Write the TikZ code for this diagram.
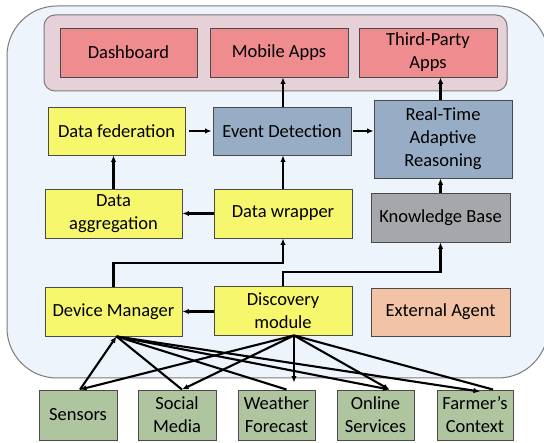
\documentclass[tikz,border=0pt]{standalone}
\usepackage{fontspec}
\setmainfont{Carlito}
\usetikzlibrary{arrows.meta}

\definecolor{panelfill}{HTML}{EEF4FB}
\definecolor{panelline}{HTML}{7A7A7A}
\definecolor{appsfill}{HTML}{E7D1D9}
\definecolor{appbox}{HTML}{EE8C90}
\definecolor{yelbox}{HTML}{F7F76E}
\definecolor{bluebox}{HTML}{97ADC6}
\definecolor{greybox}{HTML}{A6A7AA}
\definecolor{peachbox}{HTML}{F2C3A5}
\definecolor{greenbox}{HTML}{AFC5A0}
\definecolor{boxline}{HTML}{4A4A4A}

\tikzset{
  box/.style={draw=boxline, line width=0.9pt, align=center, inner sep=0pt,
    font=\fontsize{18.5}{23}\selectfont, text=black},
  wide/.style={box, minimum width=138pt, minimum height=49pt},
  src/.style={box, fill=greenbox, minimum width=78pt, minimum height=50pt},
  arr/.style={line width=2.1pt, -{Latex[length=6.5pt,width=5.5pt]}},
  link/.style={line width=2.1pt}
}

\begin{document}
\begin{tikzpicture}[x=1pt, y=-1pt]
\useasboundingbox (0,0) rectangle (544,443);
\clip (0,0) rectangle (544,443);

% platform panel
\draw[panelline, fill=panelfill, line width=1pt, rounded corners=50pt]
  (7,6) rectangle (548,378);

% application layer
\draw[panelline, fill=appsfill, line width=1pt, rounded corners=11pt]
  (44,15) rectangle (507,91);
\node[wide, fill=appbox, minimum width=137pt] (dash)   at (128.5,52.5) {Dashboard};
\node[wide, fill=appbox] (mobile) at (279,52.5) {Mobile Apps};
\node[wide, fill=appbox] (third)  at (428,52.5) {Third-Party\\Apps};

% processing layer
\node[wide, fill=yelbox, minimum width=137pt, minimum height=48pt] (fed) at (116.5,131) {Data federation};
\node[wide, fill=bluebox, minimum height=48pt] (event) at (282,131) {Event Detection};
\node[wide, fill=bluebox, minimum height=78pt] (rtar) at (443,139) {Real-Time\\Adaptive\\Reasoning};

\node[wide, fill=yelbox, minimum width=137pt] (agg)  at (113.5,213.5) {Data\\aggregation};
\node[wide, fill=yelbox] (wrap) at (283,213.5) {Data wrapper};
\node[wide, fill=greybox, minimum width=139pt] (kb) at (440.5,217.5) {Knowledge Base};

\node[wide, fill=yelbox, minimum width=137pt] (dm)   at (113.5,311.5) {Device Manager};
\node[wide, fill=yelbox] (disc) at (283,310.5) {Discovery\\module};
\node[wide, fill=peachbox, minimum width=139pt, minimum height=48pt] (ext) at (440.5,312) {External Agent};

% data sources
\node[src] (sens)    at (78,415)    {Sensors};
\node[src] (social)  at (177,415)   {Social\\Media};
\node[src, minimum width=77pt] (weather) at (276.5,415) {Weather\\Forecast};
\node[src, minimum width=77pt] (online)  at (375.5,415) {Online\\Services};
\node[src, minimum width=76pt] (farmer)  at (475,415)   {Farmer’s\\Context};

% flows between layers
\draw[arr] (event.north -| wrap.north) -- (mobile.south -| wrap.north);
\draw[arr] (rtar.north -| kb.north) -- (third.south -| kb.north);
\draw[arr, shorten <=4pt, shorten >=1pt] (fed.east) -- (event.west);
\draw[arr, shorten <=2pt] (event.east) -- (rtar.west |- event.east);
\draw[arr] (agg.north) -- (agg.north |- fed.south);
\draw[arr] (wrap.north) -- (wrap.north |- event.south);
\draw[arr] (wrap.west |- agg.east) -- (agg.east);
\draw[arr] (kb.north) -- (kb.north |- rtar.south);
\coordinate (dmup) at (113.5,263);
\coordinate (discup) at (283,272);
\draw[arr] (dm.north) -- (dmup) -| (wrap.south);
\draw[arr] (disc.north) -- (discup) -| (kb.south);
\draw[arr] (disc.west |- dm.east) -- (dm.east);

% connections to the data sources
\coordinate (dmb)   at ([xshift=3pt]dm.south);
\coordinate (discb) at ([xshift=11pt]disc.south);
\coordinate (sensT)   at ([xshift=2pt]sens.north);
\coordinate (socT)    at ([xshift=5pt]social.north);
\coordinate (wthT)    at ([xshift=10pt]weather.north);
\coordinate (wthA)    at ([yshift=7pt]weather.north -| discb);
\coordinate (onlT)    at ([xshift=14pt]online.north);
\coordinate (farA)    at ([xshift=5pt,yshift=-2pt]farmer.north);
\coordinate (farT)    at ([xshift=18pt]farmer.north);

\draw[arr] (sensT) -- (dmb);
\draw[link] (dmb) -- (socT);
\draw[link] (dmb) -- (wthT);
\draw[arr] (dmb) -- (onlT);
\draw[arr] (dmb) -- (farA);
\draw[arr] (discb) -- (sensT);
\draw[arr] (discb) -- (socT);
\draw[arr] (discb) -- (wthA);
\draw[arr] (discb) -- (onlT);
\draw[link] (discb) -- (farT);
\end{tikzpicture}
\end{document}
